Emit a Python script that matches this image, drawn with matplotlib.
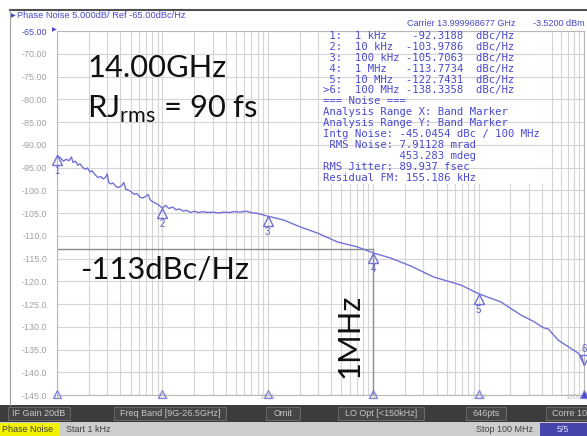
import matplotlib
matplotlib.use('Agg')
import matplotlib.pyplot as plt
from matplotlib.patches import Rectangle
from matplotlib.ticker import LogLocator, NullFormatter
from matplotlib.transforms import offset_copy

# phase noise trace, offset frequency in Hz vs dBc/Hz
freq_hz = [1000, 1080, 1150, 1220, 1300, 1370, 1420, 1500, 1580, 1650,
           1750, 1850, 1950, 2050, 2150, 2300, 2450, 2600, 2750, 2900,
           2990, 3100, 3250, 3400, 3600, 3800, 4100, 4300, 4500, 4800,
           5100, 5400, 5700, 6100, 6500, 6900, 7300, 7700, 8200, 8700,
           9300, 10000, 10700, 11500, 12500, 13500, 14500, 15800, 17000, 18500,
           20000, 22000, 24000, 27000, 30000, 34000, 38000, 43000, 48000, 55000,
           62000, 70000, 80000, 90000, 100000, 141000, 204000, 296000, 459000, 711000,
           1.0e6, 1.46e6, 2.27e6, 3.75e6, 6.77e6, 1.0e7, 1.63e7, 2.52e7, 3.3e7, 4.17e7,
           4.6e7, 5.66e7, 8.77e7, 9.5e7, 1.0e8]
noise_dbc = [-92.3, -92.9, -93.6, -93.2, -93.5, -92.7, -93.9, -93.6, -94.5, -94.2,
             -94.9, -95.4, -95.1, -96.0, -95.7, -96.6, -97.2, -97.0, -97.5, -97.1,
             -96.4, -98.3, -98.6, -98.4, -99.1, -99.4, -99.0, -98.3, -99.8, -100.0,
             -100.4, -100.9, -100.7, -101.5, -101.7, -101.4, -100.9, -102.2, -102.6, -102.9,
             -103.3, -103.98, -103.3, -104.0, -103.7, -104.3, -104.1, -104.6, -104.4, -104.9,
             -104.6, -104.9, -104.7, -104.9, -104.8, -105.0, -104.8, -104.9, -104.7, -104.8,
             -104.6, -104.9, -105.1, -105.4, -105.71, -106.54, -108.08, -109.4, -111.37, -112.47,
             -113.77, -114.89, -116.65, -119.07, -120.82, -122.74, -124.56, -127.42, -128.8, -130.27,
             -130.5, -132.91, -135.77, -136.6, -138.34]

marker_ids = ['1', '2', '3', '4', '5', '6']
marker_tags = ['1:', '2:', '3:', '4:', '5:', '>6:']
marker_freq = [1e3, 1e4, 1e5, 1e6, 1e7, 1e8]
marker_freq_txt = ['1 kHz', '10 kHz', '100 kHz', '1 MHz', '10 MHz', '100 MHz']
marker_dbc = [-92.3188, -103.9786, -105.7063, -113.7734, -122.7431, -138.3358]

noise_lines = ['=== Noise ===',
               'Analysis Range X: Band Marker',
               'Analysis Range Y: Band Marker',
               'Intg Noise: -45.0454 dBc / 100 MHz',
               ' RMS Noise: 7.91128 mrad',
               '            453.283 mdeg',
               'RMS Jitter: 89.937 fsec',
               'Residual FM: 155.186 kHz']

decade_labels = ['1k', '10k', '100k', '1M', '10M', '100M']
ref_level = -113
ref_freq = 1e6

status_items = [('IF Gain 20dB', 8, 70), ('Freq Band [9G-26.5GHz]', 114, 226),
                ('Omit', 266, 300), ('LO Opt [<150kHz]', 338, 424),
                ('646pts', 466, 506), ('Corre 10', 546, 600)]

W, H = 587, 436
BLUE = '#4848c8'
TRACE = '#7272d6'
GRID = '#d4d4d4'


def fx(x):
    return x / W


def fy(y):
    return 1 - y / H


def box(x0, y0, x1, y1, **kw):
    fig.add_artist(Rectangle((fx(x0), fy(y1)), (x1 - x0) / W, (y1 - y0) / H,
                             transform=fig.transFigure, **kw))


plt.rcParams['font.family'] = ['Liberation Sans', 'DejaVu Sans']
plt.rcParams['mathtext.fontset'] = 'custom'
plt.rcParams['mathtext.rm'] = 'Lato'
fig = plt.figure(figsize=(W / 100, H / 100), dpi=100)
fig.patch.set_facecolor('white')

ax = fig.add_axes([fx(57), fy(395), (584 - 57) / W, (395 - 31) / H])
ax.set_xscale('log')
ax.set_xlim(1e3, 1e8)
ax.set_ylim(-145, -65)

# vertical log grid below the marker table, horizontal grid on top of it
ax.xaxis.set_major_locator(LogLocator(base=10))
ax.xaxis.set_minor_locator(LogLocator(base=10, subs=range(2, 10)))
ax.xaxis.set_minor_formatter(NullFormatter())
ax.grid(which='both', axis='x', color=GRID, lw=0.8, zorder=0.5)
ax.set_axisbelow(True)
yt = list(range(-145, -64, 5))
for v in yt:
    ax.axhline(v, color=GRID, lw=0.8, zorder=1.5)
ax.set_yticks(yt)
ax.set_yticklabels([f'{v:.2f}' if v > -100 else f'{v:.1f}' for v in yt])
ax.tick_params(axis='y', length=0, pad=7, labelsize=6.4, labelcolor='#a0a0a0')
ax.tick_params(axis='x', which='both', length=0, labelbottom=False)
ax.get_yticklabels()[-1].set_color(BLUE)
for s in ax.spines.values():
    s.set_color('#b8b8b8')
    s.set_linewidth(0.8)

# white panel behind the marker table
ax.add_patch(Rectangle((fx(320), fy(184)), 223 / W, 154 / H,
                       transform=fig.transFigure, facecolor='white',
                       edgecolor='none', zorder=1))

# reference cross at 1 MHz / -113 dBc/Hz
ax.plot([1e3, ref_freq], [ref_level, ref_level], color='#8c8c8c', lw=1.0, zorder=2)
ax.plot([ref_freq, ref_freq], [ref_level, -145], color='#8c8c8c', lw=1.0, zorder=2)

ax.plot(freq_hz, noise_dbc, color=TRACE, lw=1.0, zorder=4)

# marker triangles hang below the trace, marker 6 sits above it
below = offset_copy(ax.transData, fig=fig, y=-5, units='dots')
lab = offset_copy(ax.transData, fig=fig, y=-16, units='dots')
above = offset_copy(ax.transData, fig=fig, y=5, units='dots')
lab_up = offset_copy(ax.transData, fig=fig, y=16, units='dots')
for mid, f, v in zip(marker_ids, marker_freq, marker_dbc):
    if mid == '6':
        ax.plot(f, v, marker='v', ms=7.5, mfc='none', mec=TRACE, mew=1.0,
                transform=above, clip_on=False, zorder=5)
        ax.text(f, v, mid, transform=lab_up, ha='center', va='center',
                fontsize=7, color='#5c5cc4', clip_on=False, zorder=5)
    else:
        ax.plot(f, v, marker='^', ms=7.5, mfc='none', mec=TRACE, mew=1.0,
                transform=below, clip_on=False, zorder=5)
        ax.text(f, v, mid, transform=lab, ha='center', va='center',
                fontsize=7, color='#5c5cc4', clip_on=False, zorder=5)

# decade tags along the bottom edge
up1 = offset_copy(ax.transData, fig=fig, y=1, units='dots')
for f, t in zip(marker_freq, decade_labels):
    last = t == '100M'
    ax.text(f, -145, t, ha='right' if last else 'center', va='top', fontsize=5.5,
            color='#c0c0c0', clip_on=False, transform=up1)
    ax.plot(f, -145, marker='^', ms=5.5, mfc=BLUE if last else 'none',
            mec='#8080d8', mew=0.9, clip_on=False, zorder=6, transform=up1)

# marker and noise readout
mono = dict(family='DejaVu Sans Mono', fontsize=7.7, color='#4a4ad0',
            va='center', ha='left')
rows = [f'{t:>3}  {fr:<7} {v:>9.4f}  dBc/Hz'
        for t, fr, v in zip(marker_tags, marker_freq_txt, marker_dbc)]
for i, line in enumerate(rows + noise_lines):
    fig.text(fx(323), fy(36 + 10.9 * i), line, **mono)

# big annotations
big = dict(family=['Lato', 'DejaVu Sans'], fontsize=22.2, color='#111111')
fig.text(fx(87), fy(77), '14.00GHz', va='baseline', **big)
fig.text(fx(87), fy(118), r'RJ$_{\mathrm{rms}}$ = 90 fs', va='baseline', **big)
fig.text(fx(80), fy(279), '-113dBc/Hz', va='baseline', **big)
fig.text(fx(349), fy(336), '1MHz', rotation=90, va='center', ha='center', **big)

# header and frame
fig.add_artist(plt.Line2D([fx(10), 1], [fy(10), fy(10)], color='#505050', lw=1.5))
fig.add_artist(plt.Line2D([fx(10), fx(10)], [fy(10), fy(405)], color='#a0a0a0', lw=0.8))
fig.text(fx(11), fy(16), '\u25b6', fontsize=4.5, color=BLUE, va='center',
         family='DejaVu Sans')
fig.text(fx(17), fy(16), 'Phase Noise 5.000dB/ Ref -65.00dBc/Hz', fontsize=6.7,
         color=BLUE, va='center')
fig.text(fx(52), fy(30), '\u25b6', fontsize=4.5, color=BLUE, va='center',
         family='DejaVu Sans')
fig.text(fx(407), fy(23), 'Carrier 13.999968677 GHz', fontsize=6.5, color=BLUE,
         va='center')
fig.text(fx(533), fy(23), '-3.5200 dBm', fontsize=6.5, color=BLUE, va='center')

# status bars
box(0, 405, W, 422, facecolor='#3c3c3c', edgecolor='none')
for t, x0, x1 in status_items:
    box(x0, 407, x1, 420, facecolor='#454545', edgecolor='#707070', lw=0.6)
    corr = t == 'Corre 10'
    fig.text(fx(552) if corr else fx((x0 + x1) / 2), fy(413.5), t,
             fontsize=6.5, color='#c8c8c8', va='center',
             ha='left' if corr else 'center')
box(0, 422, W, H, facecolor='#cdcdcd', edgecolor='none')
box(0, 423, 60, H, facecolor='#f2f200', edgecolor='none')
fig.text(fx(2), fy(429.5), 'Phase Noise', fontsize=6.5, color='#404040', va='center')
fig.text(fx(66), fy(429.5), 'Start 1 kHz', fontsize=6.5, color='#404040', va='center')
fig.text(fx(533), fy(429.5), 'Stop 100 MHz', fontsize=6.5, color='#404040',
         va='center', ha='right')
box(540, 423, W, H, facecolor='#4444aa', edgecolor='none')
fig.text(fx(563), fy(429.5), '5/5', fontsize=6.5, color='#e0e0ff', va='center',
         ha='center')

fig.savefig('out.png', dpi=100)
